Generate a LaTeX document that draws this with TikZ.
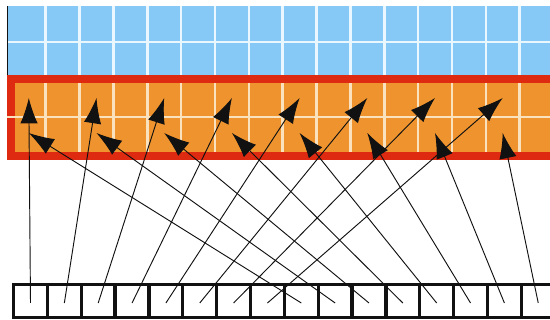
\documentclass[tikz,border=0pt]{standalone}
\usepackage{tikz}
\usetikzlibrary{arrows.meta,positioning}
\definecolor{ink}{HTML}{111111}
\definecolor{skyfill}{HTML}{86C8F6}
\definecolor{skyline}{HTML}{EAF7FF}
\definecolor{orangefill}{HTML}{EE932E}
\definecolor{orangeline}{HTML}{FBE2BE}
\definecolor{redframe}{HTML}{DE2A10}
\tikzset{
  skygrid/.style={draw=skyline,line width=2.2pt},
  orangegrid/.style={draw=orangeline,line width=2.2pt},
  slotbox/.style={draw=ink,fill=white,line width=2.8pt,minimum width=33.85*0.03cm,minimum height=33*0.03cm,inner sep=0pt},
  maparrow/.style={-{Latex[length=7.6mm,width=5.2mm]},line width=0.8pt,color=ink}
}

\begin{document}
\begin{tikzpicture}[x=0.03cm,y=-0.03cm]
  \clip (0,0) rectangle (550,320);
  % upper (blue) block
  \fill[skyfill] (8,6) rectangle (550,75);
  \foreach \k in {1,...,15}
    \draw[skygrid] (11.9+33.85*\k,6) -- (11.9+33.85*\k,75);
  \draw[skygrid] (8,42) -- (550,42);
  \draw[ink,line width=1.3pt] (7.5,6) -- (7.5,76);
  % lower (orange) block with red frame
  \fill[redframe] (7,75) rectangle (550,160);
  \fill[orangefill] (15,83) rectangle (550,152);
  \foreach \k in {1,...,15}
    \draw[orangegrid] (11.9+33.85*\k,83) -- (11.9+33.85*\k,152);
  \draw[orangegrid] (7,117) -- (550,117);
  % targets: even columns, upper and lower row
  \foreach \k in {0,...,7} {
    \coordinate (up\k) at (11.9+33.85*2*\k+16.9,98);
    \coordinate (lo\k) at (11.9+33.85*2*\k+16.9,133);
  }
  % source slots
  \foreach \k in {0,...,15}
    \node[slotbox] (slot\k) at (13.6+33.85*\k+16.9,301) {};
  % mapping
  \foreach \k [evaluate=\k as \n using int(\k+8)] in {0,...,7} {
    \draw[maparrow] ([yshift=-2*0.03cm]slot\k.center) -- (up\k);
    \draw[maparrow] ([yshift=-2*0.03cm]slot\n.center) -- (lo\k);
  }
\end{tikzpicture}
\end{document}
